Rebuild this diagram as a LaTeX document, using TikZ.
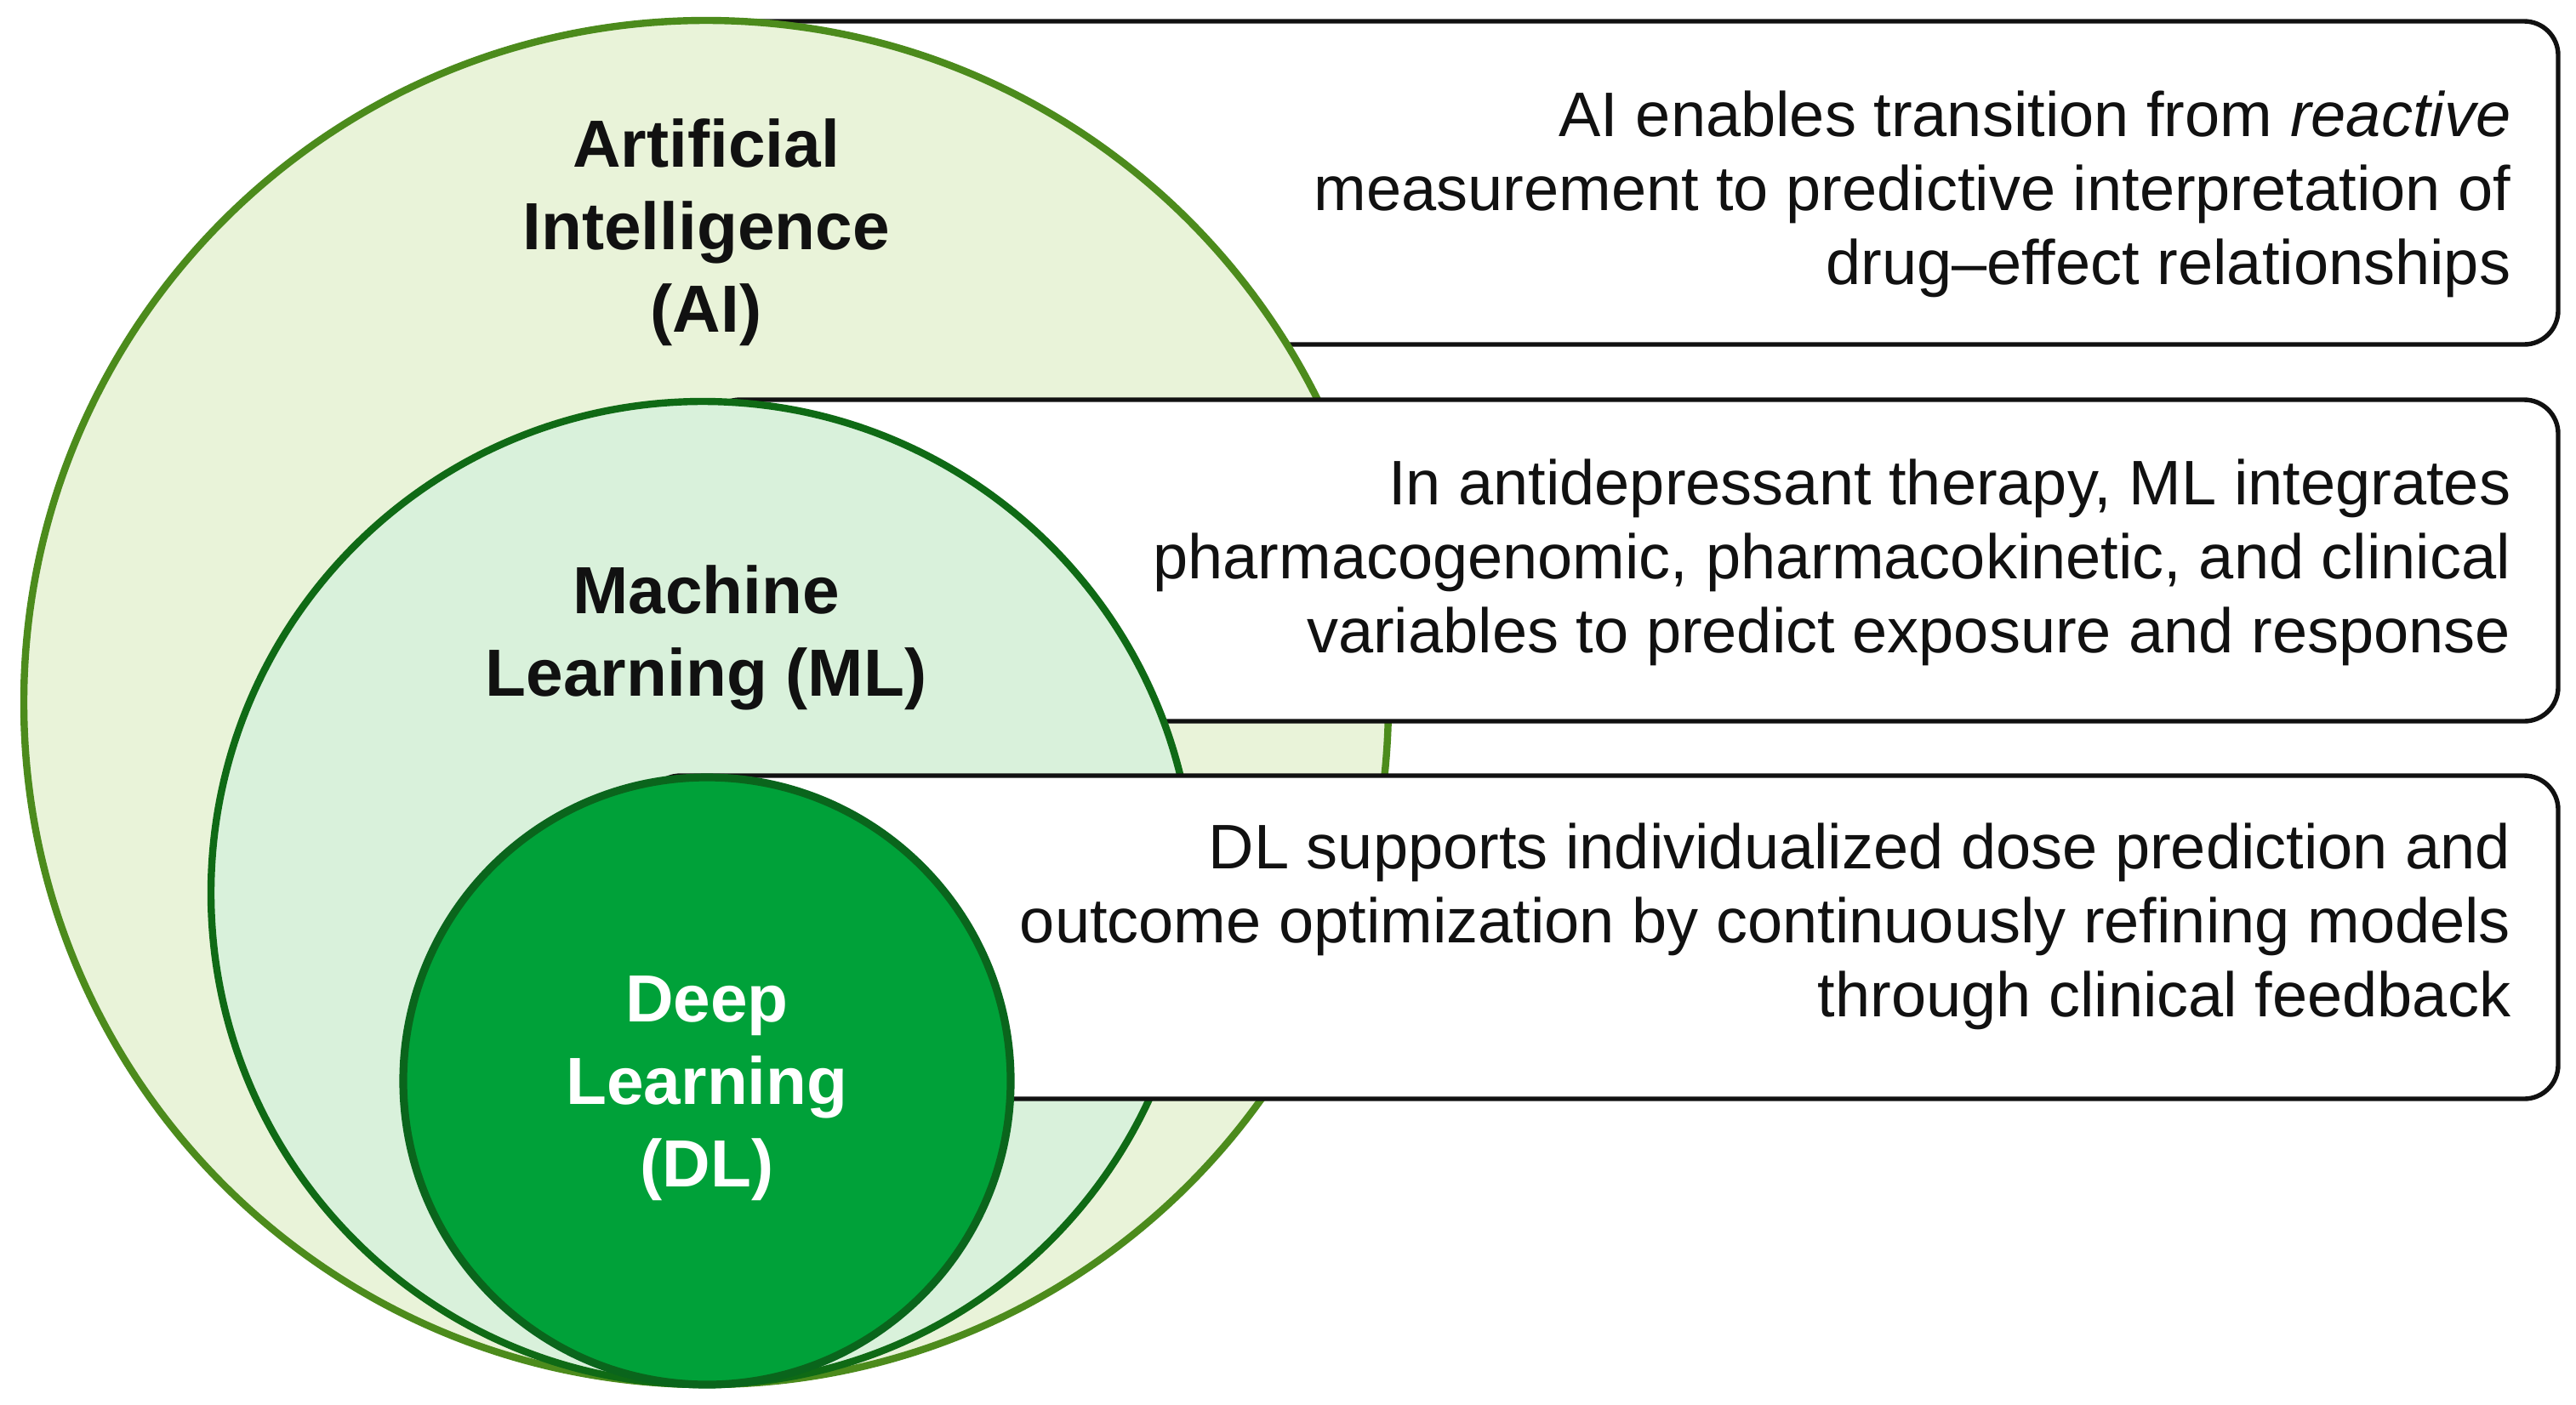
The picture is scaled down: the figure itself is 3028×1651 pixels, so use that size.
\documentclass[tikz,border=0pt]{standalone}
\usepackage{fontspec}
\setmainfont{Liberation Sans}
\definecolor{aiFill}{HTML}{E9F3D9}
\definecolor{aiLine}{HTML}{4C8B1C}
\definecolor{mlFill}{HTML}{D9F1DB}
\definecolor{mlLine}{HTML}{0F6A15}
\definecolor{dlFill}{HTML}{00A139}
\definecolor{dlLine}{HTML}{0A651C}
\definecolor{txt}{HTML}{111111}
\tikzset{
  infobox/.style={draw=txt, fill=white, line width=1.35pt, rounded corners=10pt},
  aicirc/.style={draw=aiLine, fill=aiFill, line width=2.1pt},
  mlcirc/.style={draw=mlLine, fill=mlFill, line width=2.1pt},
  dlcirc/.style={draw=dlLine, fill=dlFill, line width=2.3pt},
  circlabel/.style={font=\fontsize{19.6}{24.25}\selectfont\bfseries, align=center, inner sep=0pt, text=txt},
  boxtext/.style={font=\fontsize{18.5}{21.75}\selectfont, align=right, inner sep=0pt, text=txt, anchor=east}
}
\begin{document}
\begin{tikzpicture}[x=0.25pt,y=-0.25pt]
\useasboundingbox[fill=white] (0,0) rectangle (3028,1651);
% box 1 (behind AI circle)
\draw[infobox] (830,25) rectangle (3007,405);
% AI circle
\draw[aicirc] (830,826) circle[radius=200.5pt];
% box 2
\draw[infobox] (830,470) rectangle (3007,848);
% ML circle
\draw[mlcirc] (826,1050) circle[radius=144.5pt];
% box 3
\draw[infobox] (760,912) rectangle (3007,1292);
% DL circle
\draw[dlcirc] (831,1271) circle[radius=89.25pt];
% circle labels
\node[circlabel] (ai) at (830,273) {Artificial\\Intelligence\\(AI)};
\node[circlabel] (ml) at (830,750) {Machine\\Learning (ML)};
\node[circlabel, text=white] (dl) at (831,1280) {Deep\\Learning\\(DL)};
% box texts
\node[boxtext] (t1) at (2952,228) {AI enables transition from \textit{reactive}\\measurement to predictive interpretation of\\drug–effect relationships};
\node[boxtext] (t2) at (2952,661) {In antidepressant therapy, ML integrates\\pharmacogenomic, pharmacokinetic, and clinical\\variables to predict exposure and response};
\node[boxtext] (t3) at (2952,1089) {DL supports individualized dose prediction and\\outcome optimization by continuously refining models\\through clinical feedback};
\end{tikzpicture}
\end{document}
